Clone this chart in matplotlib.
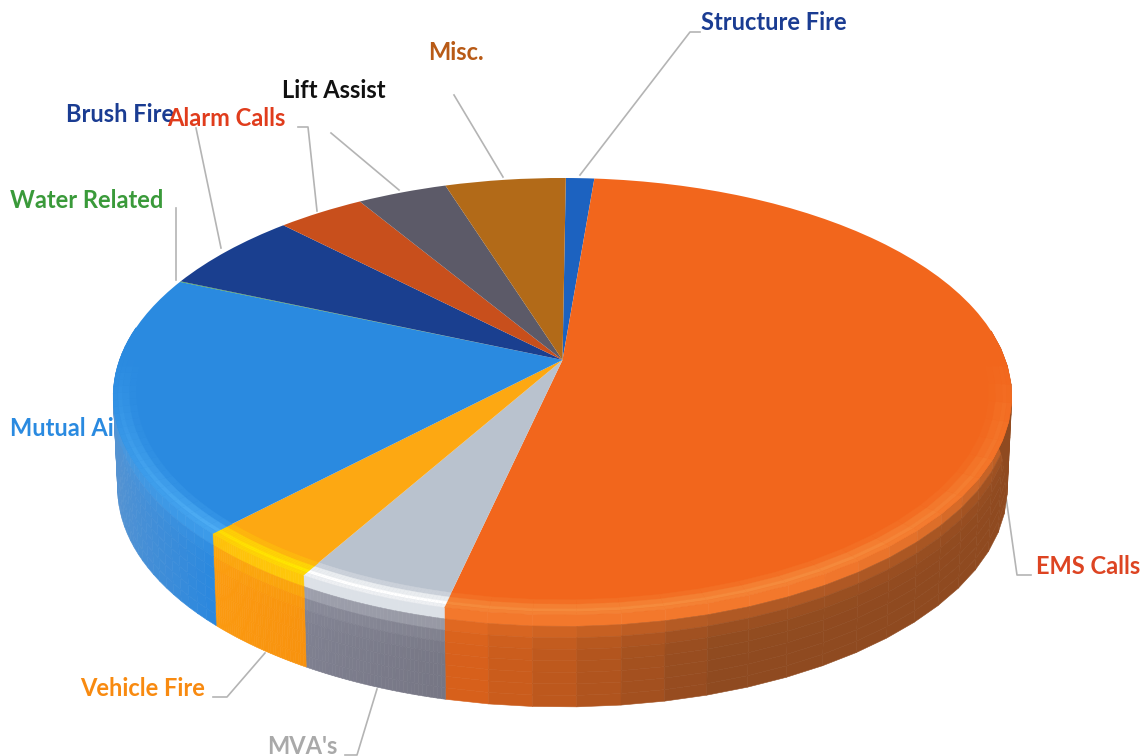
import numpy as np
import matplotlib
matplotlib.use("Agg")
import matplotlib.pyplot as plt
from matplotlib.collections import PolyCollection
from matplotlib.colors import to_rgb
from matplotlib.transforms import Transform

# slices, clockwise from the top of the pie
categories = ["Structure Fire", "EMS Calls", "MVA's", "Vehicle Fire", "Mutual Aid",
              "Water Related", "Brush Fire", "Alarm Calls", "Lift Assist", "Misc."]
values = [1.2, 52.3, 4.75, 3.9, 19.2, 0.05, 6.1, 3.7, 3.8, 5.1]

top_colors = ["#1c62c0", "#f2661c", "#b9c2ce", "#fda812", "#2a8ae0",
              "#3a9a3a", "#1a3f8f", "#c84f1c", "#5c5a68", "#b26a18"]
# side wall colour at the left and right end of each slice
wall_left = ["#1c62c0", "#dd621b", "#7f8090", "#fb9a10", "#5a94d0",
             "#3a9a3a", "#1a3f8f", "#c84f1c", "#5c5a68", "#b26a18"]
wall_right = ["#1c62c0", "#8f4a20", "#767684", "#f8920e", "#2a88de",
              "#3a9a3a", "#1a3f8f", "#c84f1c", "#5c5a68", "#b26a18"]
rim_colors = ["#1c62c0", "#f58a3c", "#ffffff", "#ffe800", "#55b4f8",
              "#3a9a3a", "#1a3f8f", "#c84f1c", "#5c5a68", "#b26a18"]

label_colors = ["#1a3c92", "#dd4422", "#a9a9a9", "#f88a10", "#2a8ae0",
                "#3a9a3a", "#1a3c92", "#e03c1c", "#111111", "#b85a16"]
label_pos = [(701, 23), (1036, 567), (267, 746), (80, 689), (10, 429),
             (10, 201), (66, 115), (167, 119), (282, 91), (428, 53)]
leaders = [[(700, 32), (690, 32), (580, 175)],
           [(1031, 575), (1017, 575), (1005, 490)],
           [(345, 755), (357, 755), (377, 689)],
           [(213, 697), (227, 697), (265, 653)],
           [],
           [(176, 208), (176, 280)],
           [(196, 128), (221, 248)],
           [(298, 127), (308, 127), (317, 211)],
           [(331, 133), (399, 190)],
           [(454, 95), (503, 177)]]

# projection of the tilted disc into pixel coordinates
CX, CY = 562.5, 360
RX, A, B = 443, 212.4, 0.167
DEPTH = 92


def project(u, v):
    w = 1 + B * v
    return CX + RX * u / w, CY - A * v / w


class Tilt(Transform):
    input_dims = 2
    output_dims = 2

    def transform_non_affine(self, xy):
        xy = np.asarray(xy)
        x, y = project(xy[:, 0], xy[:, 1])
        return np.column_stack([x, y])


def mix(a, b, t):
    return tuple(np.array(a) + (np.array(b) - np.array(a)) * t)


fig = plt.figure(figsize=(11.45, 7.56), dpi=100)
ax = fig.add_axes([0, 0, 1, 1])

wedges, _ = ax.pie(values, colors=top_colors, startangle=89.5, counterclock=False,
                   wedgeprops={"linewidth": 0, "zorder": 6})
ax.set_aspect("auto")
ax.set_xlim(0, 1145)
ax.set_ylim(756, 0)
ax.axis("off")

tilt = Tilt()
for w in wedges:
    w.set_transform(tilt + ax.transData)

wall_polys, wall_cols = [], []
rim_polys, rim_cols = [], []
for i, w in enumerate(wedges):
    th = np.radians(np.linspace(w.theta1, w.theta2, 40))
    top = to_rgb(top_colors[i])
    hl = to_rgb(rim_colors[i])
    left = to_rgb(wall_left[i])
    right = to_rgb(wall_right[i])
    for j in range(len(th) - 1):
        a0, a1 = th[j], th[j + 1]
        am = (a0 + a1) / 2
        if np.sin(am) > 0.15:
            continue
        x0, y0 = project(np.cos(a0), np.sin(a0))
        x1, y1 = project(np.cos(a1), np.sin(a1))
        s = np.clip((np.cos(am) - np.cos(th).min()) / max(np.ptp(np.cos(th)), 1e-6), 0, 1)
        if i == 1:
            # the EMS wall goes dark quickly, then stays brown
            s = np.clip(s * 2.4, 0, 1)
        base = mix(left, right, s)
        strength = np.clip(-np.sin(am) * 1.15, 0, 1)
        for k in range(8):
            t0, t1 = k / 8, (k + 1) / 8
            d0, d1 = DEPTH * t0, DEPTH * t1
            sx0 = 0.99 if k == 7 else 1 - 0.01 * t0
            sx1 = 1 - 0.01 * t1
            wall_polys.append([(CX + (x0 - CX) * (1 - 0.01 * t0), y0 + d0),
                               (CX + (x1 - CX) * (1 - 0.01 * t0), y1 + d0),
                               (CX + (x1 - CX) * sx1, y1 + d1),
                               (CX + (x0 - CX) * sx1, y0 + d1)])
            wall_cols.append(mix(base, mix(top, hl, 0.5), strength * np.exp(-t0 * 9)))
        for r0, r1, p in [(0.95, 0.965, 0.25), (0.965, 0.98, 0.7), (0.98, 0.99, 1.0), (0.99, 1.0, 0.75)]:
            pts = [project(r0 * np.cos(a0), r0 * np.sin(a0)), project(r0 * np.cos(a1), r0 * np.sin(a1)),
                   project(r1 * np.cos(a1), r1 * np.sin(a1)), project(r1 * np.cos(a0), r1 * np.sin(a0))]
            rim_polys.append(pts)
            rim_cols.append(mix(top, hl, strength * p))

ax.add_collection(PolyCollection(wall_polys, facecolors=wall_cols, edgecolors=wall_cols,
                                 linewidths=0.4, zorder=5))
ax.add_collection(PolyCollection(rim_polys, facecolors=rim_cols, edgecolors=rim_cols,
                                 linewidths=0.3, zorder=7))

for name, color, pos, line in zip(categories, label_colors, label_pos, leaders):
    ax.text(pos[0], pos[1], name, color=color, family="Lato", weight="bold", fontsize=17,
            ha="left", va="center", zorder=2)
    if line:
        ax.plot([p[0] for p in line], [p[1] for p in line], color="#b4b4b4", lw=1.2, zorder=3)

fig.savefig("out.png", dpi=100)
